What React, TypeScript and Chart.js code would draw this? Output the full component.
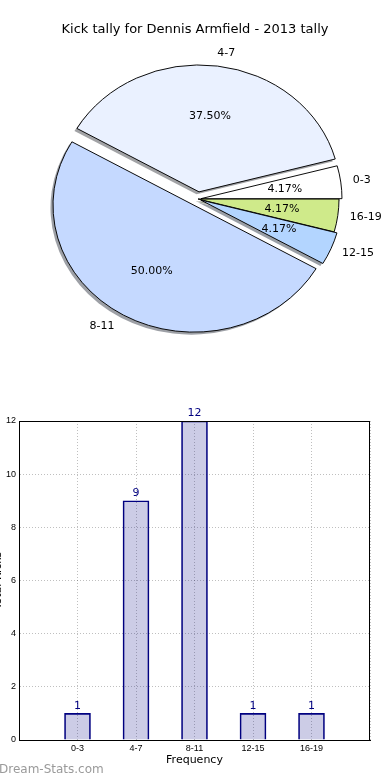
import React, { useEffect, useRef } from 'react';
import { Chart, registerables } from 'chart.js';

Chart.register(...registerables);

// ---- data ----
const chartTitle = 'Kick tally for Dennis Armfield - 2013 tally';
const categories = ['0-3', '4-7', '8-11', '12-15', '16-19'];
const kickCounts = [1, 9, 12, 1, 1];
const yTickValues = [0, 2, 4, 6, 8, 10, 12];
const xAxisTitle = 'Frequency';
const yAxisTitle = 'Total Kicks';
const watermarkText = 'Dream-Stats.com';

// ---- style ----
const sliceColors = ['#ffffff', '#eaf1ff', '#c5d9ff', '#b3d5ff', '#cfea8a'];
const sliceExplode = [3, 8, 8, 3, 0];
const PIE_RADIUS = 141;
const PIE_SCALE_Y = 0.9;
const FONT = "'DejaVu Sans', sans-serif";
const TICK_FONT = "'Liberation Sans', Arial, sans-serif";

function hexToRgb(hex: string) {
  const n = parseInt(hex.slice(1), 16);
  return [(n >> 16) & 255, (n >> 8) & 255, n & 255];
}

export default function App() {
  const pieRef = useRef<HTMLCanvasElement | null>(null);
  const barRef = useRef<HTMLCanvasElement | null>(null);

  useEffect(() => {
    if (!pieRef.current || !barRef.current) return;

    // pie drawn clockwise from 3 o'clock in reversed order == matplotlib CCW order
    const pieLabels = [...categories].reverse();
    const pieValues = [...kickCounts].reverse();
    const pieColors = [...sliceColors].reverse();
    const pieExplode = [...sliceExplode].reverse();
    const total = kickCounts.reduce((a, b) => a + b, 0);

    const center = (chart: any) => {
      const ca = chart.chartArea;
      return { cx: (ca.left + ca.right) / 2, cy: (ca.top + ca.bottom) / 2 };
    };

    const piePlugin = {
      id: 'pieDecor',
      beforeDatasetsDraw(chart: any) {
        const ctx = chart.ctx;
        const { cx, cy } = center(chart);
        const meta = chart.getDatasetMeta(0);
        meta.data.forEach((arc: any, i: number) => {
          const m = (arc.startAngle + arc.endAngle) / 2;
          arc.x = cx + Math.cos(m) * pieExplode[i];
          arc.y = cy + Math.sin(m) * pieExplode[i];
        });
        ctx.save();
        ctx.translate(cx, cy);
        ctx.scale(1, PIE_SCALE_Y);
        ctx.translate(-cx, -cy);
        // shadows
        meta.data.forEach((arc: any, i: number) => {
          const [r, g, b] = hexToRgb(pieColors[i]);
          ctx.fillStyle = `rgba(${Math.round(r * 0.3)},${Math.round(g * 0.3)},${Math.round(b * 0.3)},0.5)`;
          const sx = arc.x - 2.5;
          const sy = arc.y + 2.5 / PIE_SCALE_Y;
          ctx.beginPath();
          ctx.moveTo(sx, sy);
          ctx.arc(sx, sy, arc.outerRadius, arc.startAngle, arc.endAngle);
          ctx.closePath();
          ctx.fill();
        });
      },
      afterDatasetsDraw(chart: any) {
        const ctx = chart.ctx;
        ctx.restore();
        const { cy } = center(chart);
        const meta = chart.getDatasetMeta(0);
        ctx.save();
        ctx.fillStyle = '#000';
        ctx.font = `11px ${FONT}`;
        ctx.textBaseline = 'middle';
        meta.data.forEach((arc: any, i: number) => {
          const m = (arc.startAngle + arc.endAngle) / 2;
          const r = arc.outerRadius;
          const lx = arc.x + Math.cos(m) * r * 1.1;
          const ly = cy + (arc.y - cy + Math.sin(m) * r * 1.1) * PIE_SCALE_Y;
          ctx.textAlign = Math.cos(m) > 0 ? 'left' : 'right';
          ctx.fillText(pieLabels[i], lx - 2, ly);
          const px = arc.x + Math.cos(m) * r * 0.6;
          const py = cy + (arc.y - cy + Math.sin(m) * r * 0.6) * PIE_SCALE_Y;
          ctx.textAlign = 'center';
          ctx.fillText(((pieValues[i] / total) * 100).toFixed(2) + '%', px, py);
        });
        ctx.font = `13px ${FONT}`;
        ctx.textAlign = 'center';
        ctx.fillText(chartTitle, 195, 30);
        ctx.restore();
      },
    };

    const pie = new Chart(pieRef.current, {
      type: 'pie',
      data: {
        labels: pieLabels,
        datasets: [
          {
            data: pieValues,
            backgroundColor: pieColors,
            borderColor: '#000',
            borderWidth: 1,
            offset: 0,
            hoverOffset: 0,
            radius: PIE_RADIUS,
            clip: false,
          } as any,
        ],
      },
      options: {
        responsive: false,
        animation: false,
        rotation: 90,
        layout: { padding: { left: 6, right: 0, top: 18, bottom: 0 } },
        plugins: { legend: { display: false }, tooltip: { enabled: false } },
        events: [],
      } as any,
      plugins: [piePlugin],
    });

    const barPlugin = {
      id: 'barDecor',
      afterDatasetsDraw(chart: any) {
        const ctx = chart.ctx;
        const ca = chart.chartArea;
        ctx.save();
        ctx.strokeStyle = '#000';
        ctx.lineWidth = 1;
        ctx.strokeRect(ca.left + 0.5, ca.top + 0.5, ca.right - ca.left - 1, ca.bottom - ca.top);
        const meta = chart.getDatasetMeta(0);
        ctx.fillStyle = '#000080';
        ctx.font = `11px ${FONT}`;
        ctx.textAlign = 'center';
        ctx.textBaseline = 'bottom';
        meta.data.forEach((bar: any, i: number) => {
          ctx.fillText(String(kickCounts[i]), bar.x, bar.y - 2);
        });
        ctx.fillStyle = '#000';
        ctx.translate(1, (ca.top + ca.bottom) / 2);
        ctx.rotate(-Math.PI / 2);
        ctx.textBaseline = 'alphabetic';
        ctx.fillText(yAxisTitle, 0, 0);
        ctx.restore();
      },
    };

    const gridOpts = { color: 'rgba(0,0,0,0.25)', lineWidth: 1, drawTicks: false, offset: false };
    const borderOpts = { display: true, color: '#000', width: 1, dash: [1, 2] };

    const bar = new Chart(barRef.current, {
      type: 'bar',
      data: {
        datasets: [
          {
            data: categories.map((c, i) => ({ x: i, y: kickCounts[i] })),
            backgroundColor: 'rgba(0,0,128,0.2)',
            borderColor: '#000080',
            borderWidth: 1,
            barThickness: 26,
          } as any,
        ],
      },
      options: {
        responsive: false,
        animation: false,
        events: [],
        layout: { padding: { left: 0, right: 20, top: 41, bottom: 0 } },
        plugins: { legend: { display: false }, tooltip: { enabled: false } },
        scales: {
          x: {
            type: 'linear',
            min: -1,
            max: 5,
            offset: false,
            afterFit: (s: any) => {
              s.height = 40;
            },
            ticks: {
              stepSize: 1,
              autoSkip: false,
              maxRotation: 0,
              padding: 3,
              color: '#000',
              font: { family: TICK_FONT, size: 9 },
              callback: (v: any) => categories[v] ?? '',
            },
            grid: gridOpts,
            border: borderOpts,
            title: {
              display: true,
              text: xAxisTitle,
              color: '#000',
              font: { family: FONT, size: 11 },
              padding: { top: 0, bottom: 13 },
            },
          },
          y: {
            min: yTickValues[0],
            max: yTickValues[yTickValues.length - 1],
            afterFit: (s: any) => {
              s.width = 19;
            },
            afterBuildTicks: (s: any) => {
              s.ticks = yTickValues.map((v) => ({ value: v }));
            },
            ticks: {
              padding: 3,
              color: '#000',
              font: { family: TICK_FONT, size: 9 },
            },
            grid: gridOpts,
            border: borderOpts,
          },
        },
      } as any,
      plugins: [barPlugin],
    });

    return () => {
      pie.destroy();
      bar.destroy();
    };
  }, []);

  return (
    <div style={{ position: 'absolute', left: 0, top: 0, width: 390, height: 780, background: '#fff', overflow: 'hidden' }}>
      <canvas ref={pieRef} width={390} height={380} style={{ position: 'absolute', left: 0, top: 0 }} />
      <canvas ref={barRef} width={390} height={400} style={{ position: 'absolute', left: 0, top: 380 }} />
      <div
        style={{
          position: 'absolute',
          left: -1,
          top: 761,
          fontFamily: FONT,
          fontSize: 12,
          color: '#9a9a9a',
          whiteSpace: 'nowrap',
          lineHeight: '16px',
        }}
      >
        {watermarkText}
      </div>
    </div>
  );
}
